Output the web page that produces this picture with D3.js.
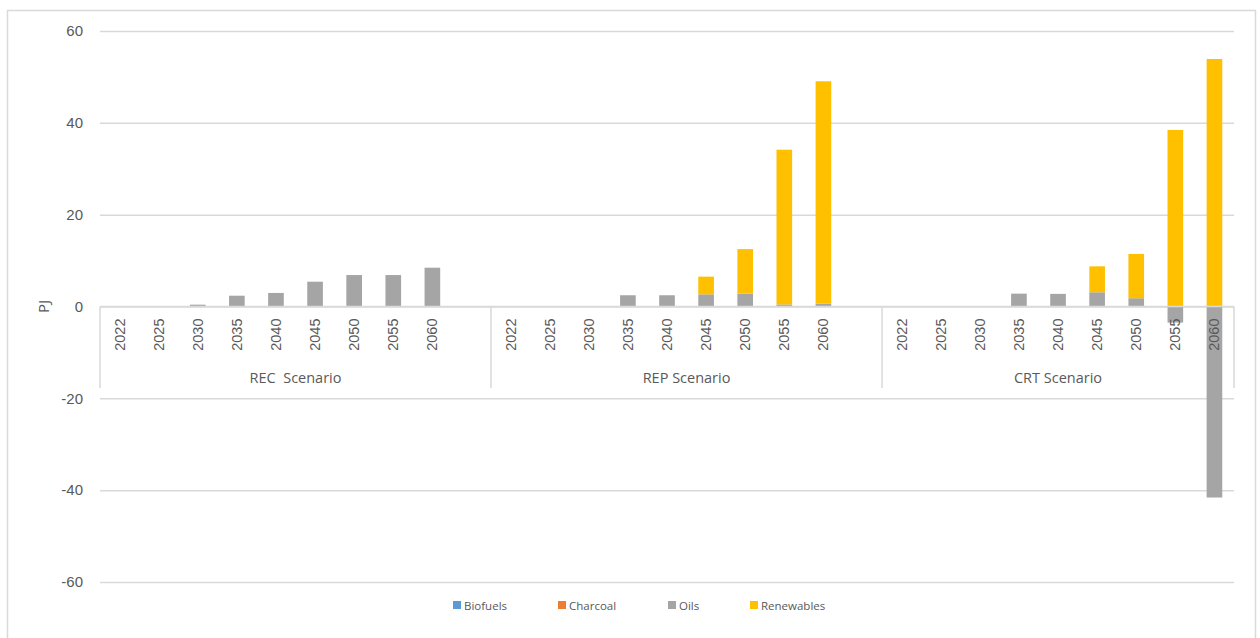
<!DOCTYPE html>
<html>
<head>
<meta charset="utf-8">
<script src="https://cdn.jsdelivr.net/npm/d3@7"></script>
<style>
  html, body { margin: 0; padding: 0; background: #fff; }
  svg { display: block; font-family: "Open Sans", sans-serif; }
</style>
</head>
<body>
<svg id="chart" width="1260" height="638"></svg>
<script>
// ---- data (PJ) ----
const scenarios = ["REC  Scenario", "REP Scenario", "CRT Scenario"];
const years = ["2022", "2025", "2030", "2035", "2040", "2045", "2050", "2055", "2060"];
// REC and REP groups carry one empty trailing slot on the category axis
const trailingBlank = [true, true, false];
const seriesNames = ["Biofuels", "Charcoal", "Oils", "Renewables"];
const seriesColors = ["#5B9BD5", "#ED7D31", "#A5A5A5", "#FFC000"];

const biofuelsREC = [0, 0, 0, 0, 0, 0, 0, 0, 0];
const biofuelsREP = [0, 0, 0, 0, 0, 0, 0, 0, 0];
const biofuelsCRT = [0, 0, 0, 0, 0, 0, 0, 0, 0];
const charcoalREC = [0, 0, 0, 0, 0, 0, 0, 0, 0];
const charcoalREP = [0, 0, 0, 0, 0, 0, 0, 0, 0];
const charcoalCRT = [0, 0, 0, 0, 0, 0, 0, 0, 0];
const oilsREC = [0, 0.1, 0.4, 2.35, 2.95, 5.4, 6.85, 6.85, 8.45];
const oilsREP = [0, 0, 0, 2.45, 2.45, 2.65, 2.8, 0.45, 0.6];
const oilsCRT = [0, 0, 0, 2.8, 2.75, 3.1, 1.8, -3.5, -41.6];
const renewablesREC = [0, 0, 0, 0, 0, 0, 0, 0, 0];
const renewablesREP = [0, 0, 0, 0, 0, 3.85, 9.7, 33.7, 48.45];
const renewablesCRT = [0, 0, 0, 0, 0, 5.65, 9.65, 38.45, 53.9];

const yTicks = [-60, -40, -20, 0, 20, 40, 60];

const valuesBy = {
  Biofuels: [biofuelsREC, biofuelsREP, biofuelsCRT],
  Charcoal: [charcoalREC, charcoalREP, charcoalCRT],
  Oils: [oilsREC, oilsREP, oilsCRT],
  Renewables: [renewablesREC, renewablesREP, renewablesCRT]
};

// ---- build category slots ----
const slots = [];
scenarios.forEach((sc, si) => {
  years.forEach((yr, yi) => {
    const row = { key: si + "|" + yr, year: yr, scenario: si };
    seriesNames.forEach(s => { row[s] = valuesBy[s][si][yi]; });
    slots.push(row);
  });
  if (trailingBlank[si]) {
    const row = { key: si + "|blank", year: "", scenario: si };
    seriesNames.forEach(s => { row[s] = 0; });
    slots.push(row);
  }
});

// ---- layout ----
const plot = { left: 100, right: 1234, top: 31, bottom: 582 };
const svg = d3.select("#chart");
const textColor = "#595959";
const lineColor = "#d9d9d9";

// outer chart frame
svg.append("rect")
  .attr("x", 7.5).attr("y", 10.5)
  .attr("width", 1248).attr("height", 640)
  .attr("fill", "#fff").attr("stroke", lineColor).attr("stroke-width", 1.5);

const x = d3.scaleBand().domain(slots.map(d => d.key)).range([plot.left, plot.right]).padding(0);
const y = d3.scaleLinear().domain([-60, 60]).range([plot.bottom, plot.top]);
const color = d3.scaleOrdinal().domain(seriesNames).range(seriesColors);

// value axis with gridlines
const yAxis = svg.append("g")
  .attr("transform", `translate(${plot.left},0)`)
  .call(d3.axisLeft(y).tickValues(yTicks).tickFormat(d3.format("d"))
    .tickSize(-(plot.right - plot.left)).tickPadding(17));
yAxis.select(".domain").remove();
yAxis.selectAll(".tick line").attr("stroke", lineColor).attr("stroke-width", 1.5);
yAxis.selectAll(".tick text")
  .attr("fill", textColor).style("font-size", "15px")
  .text(d => d < 0 ? "-" + Math.abs(d) : d);

// stacked bars
const stack = d3.stack().keys(seriesNames).offset(d3.stackOffsetDiverging);
const layers = stack(slots);
const barW = x.step() * 0.4;

svg.append("g").selectAll("g")
  .data(layers).join("g")
  .attr("fill", d => color(d.key))
  .selectAll("rect")
  .data(d => d)
  .join("rect")
  .attr("x", d => x(d.data.key) + (x.step() - barW) / 2)
  .attr("width", barW)
  .attr("y", d => y(Math.max(d[0], d[1])))
  .attr("height", d => Math.abs(y(d[0]) - y(d[1])));

// category axis (zero line)
const y0 = y(0);
svg.append("line")
  .attr("x1", plot.left).attr("x2", plot.right)
  .attr("y1", y0).attr("y2", y0)
  .attr("stroke", lineColor).attr("stroke-width", 1.5);

const xAxis = svg.append("g")
  .attr("transform", `translate(0,${y0})`)
  .call(d3.axisBottom(x).tickSize(0).tickFormat(k => slots.find(s => s.key === k).year));
xAxis.select(".domain").remove();
xAxis.selectAll(".tick text")
  .attr("fill", textColor)
  .style("font-size", "14.5px")
  .attr("text-anchor", "end")
  .attr("dominant-baseline", "central")
  .attr("dy", null)
  .attr("y", 0)
  .attr("transform", "translate(0,12) rotate(-90)");

// group separators and labels
const groupBounds = scenarios.map((sc, si) => {
  const keys = slots.filter(s => s.scenario === si).map(s => s.key);
  return { name: sc, x0: x(keys[0]), x1: x(keys[keys.length - 1]) + x.step() };
});
const sepXs = [groupBounds[0].x0].concat(groupBounds.map(g => g.x1));
svg.append("g").selectAll("line")
  .data(sepXs).join("line")
  .attr("x1", d => d).attr("x2", d => d)
  .attr("y1", y0).attr("y2", y0 + 81.5)
  .attr("stroke", lineColor).attr("stroke-width", 1.5);

svg.append("g").selectAll("text")
  .data(groupBounds).join("text")
  .attr("x", d => (d.x0 + d.x1) / 2)
  .attr("y", y0 + 71)
  .attr("text-anchor", "middle")
  .attr("dominant-baseline", "central")
  .attr("fill", textColor)
  .style("font-size", "14.5px")
  .style("white-space", "pre")
  .attr("xml:space", "preserve")
  .text(d => d.name);

// axis title
svg.append("text")
  .attr("transform", `translate(43,${y0}) rotate(-90)`)
  .attr("text-anchor", "middle")
  .attr("dominant-baseline", "central")
  .attr("fill", textColor)
  .style("font-size", "15px")
  .text("PJ");

// legend
const legendX = [453, 558, 668, 750];
const legend = svg.append("g").selectAll("g")
  .data(seriesNames).join("g")
  .attr("transform", (d, i) => `translate(${legendX[i]},601)`);
legend.append("rect")
  .attr("width", 8).attr("height", 8)
  .attr("fill", d => color(d));
legend.append("text")
  .attr("x", 11).attr("y", 4)
  .attr("dominant-baseline", "central")
  .attr("fill", textColor)
  .style("font-size", "11.5px")
  .text(d => d);
</script>
</body>
</html>
